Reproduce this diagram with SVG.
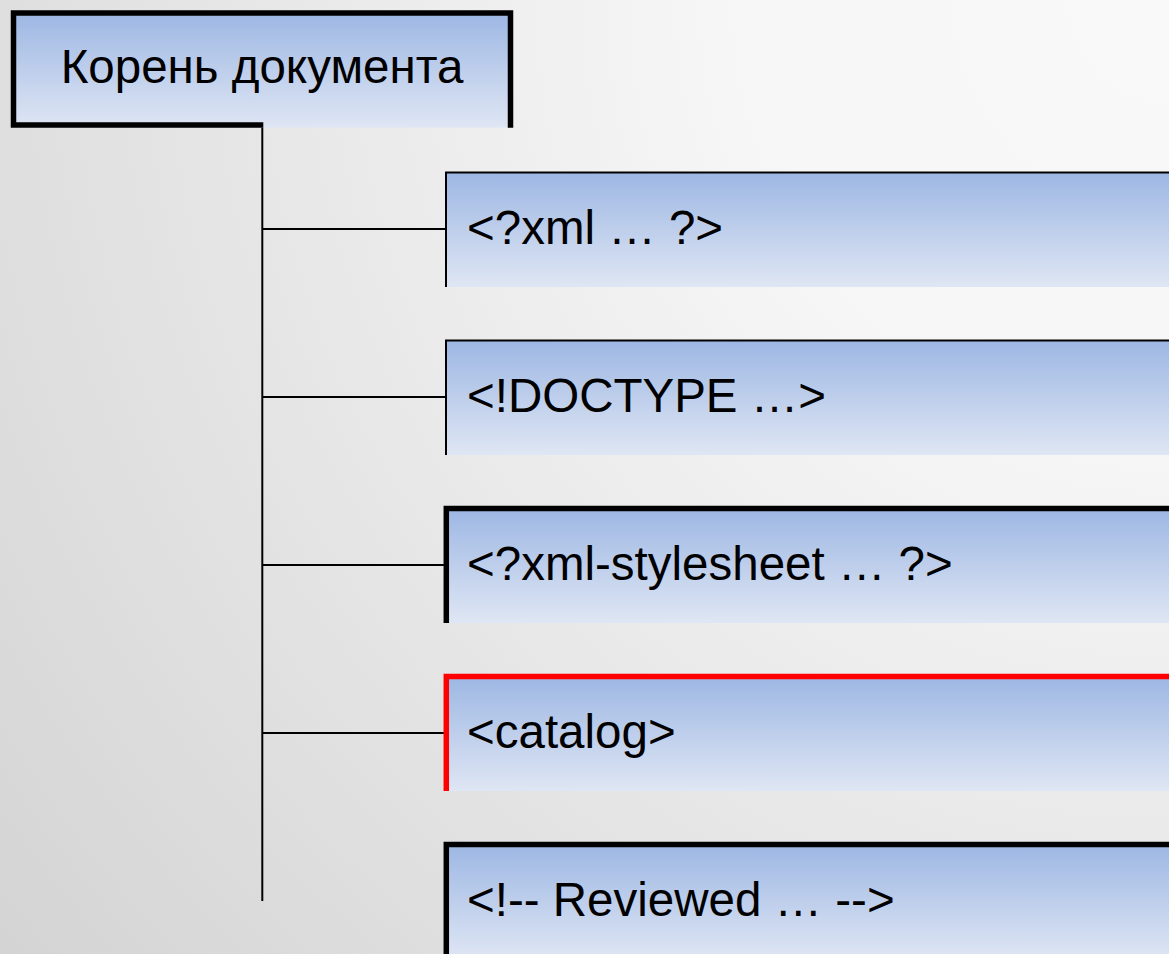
<svg xmlns="http://www.w3.org/2000/svg" width="1169" height="954" viewBox="0 0 1169 954">
  <defs>
    <radialGradient id="bg" gradientUnits="userSpaceOnUse" cx="1169" cy="0" r="1500">
      <stop offset="0" stop-color="#f9f9f9"/>
      <stop offset="0.3" stop-color="#f6f6f6"/>
      <stop offset="1" stop-color="#d4d4d4"/>
    </radialGradient>
    <linearGradient id="boxfill" x1="0" y1="0" x2="0" y2="1">
      <stop offset="0" stop-color="#9db7e3"/>
      <stop offset="1" stop-color="#dfe6f4"/>
    </linearGradient>
    <style>
      .fill { fill: url(#boxfill); }
      .thin { fill: none; stroke: #000; stroke-width: 2; }
      .thick { fill: none; stroke: #000; stroke-width: 5.5; }
      .red { fill: none; stroke: #ff0000; stroke-width: 5.5; }
      .conn { fill: none; stroke: #000; stroke-width: 2; }
      .lbl { font-family: "Liberation Sans", Arial, sans-serif; font-size: 47.5px; fill: #000; }
    </style>
  </defs>
  <rect x="0" y="0" width="1169" height="954" fill="url(#bg)"/>

  <g id="connectors">
    <line class="conn" x1="262.3" y1="127" x2="262.3" y2="901"/>
    <line class="conn" x1="262.3" y1="229" x2="446" y2="229"/>
    <line class="conn" x1="262.3" y1="397" x2="446" y2="397"/>
    <line class="conn" x1="262.3" y1="565" x2="446" y2="565"/>
    <line class="conn" x1="262.3" y1="733" x2="446" y2="733"/>
  </g>

  <g id="root">
    <rect class="fill" x="13.5" y="13" width="497" height="114.7"/>
    <path class="thick" d="M263.3,125 L13.5,125 L13.5,13 L510.5,13 L510.5,127.7"/>
    <text class="lbl" x="262" y="83" text-anchor="middle">Корень документа</text>
  </g>

  <g id="node-xml">
    <rect class="fill" x="446" y="172.5" width="723" height="114.5"/>
    <path class="thin" d="M446,287 L446,172.5 L1169,172.5"/>
    <text class="lbl" x="467" y="244">&lt;?xml … ?&gt;</text>
  </g>

  <g id="node-doctype">
    <rect class="fill" x="446" y="340.5" width="723" height="114.5"/>
    <path class="thin" d="M446,455 L446,340.5 L1169,340.5"/>
    <text class="lbl" x="467" y="412">&lt;!DOCTYPE …&gt;</text>
  </g>

  <g id="node-stylesheet">
    <rect class="fill" x="446" y="508.5" width="723" height="114.5"/>
    <path class="thick" d="M446.3,623 L446.3,508.5 L1169,508.5"/>
    <text class="lbl" x="467" y="580">&lt;?xml-stylesheet … ?&gt;</text>
  </g>

  <g id="node-catalog">
    <rect class="fill" x="446" y="676.5" width="723" height="114.5"/>
    <path class="red" d="M446.3,791 L446.3,676.5 L1169,676.5"/>
    <text class="lbl" x="467" y="748">&lt;catalog&gt;</text>
  </g>

  <g id="node-comment">
    <rect class="fill" x="446" y="844.5" width="723" height="114.5"/>
    <path class="thick" d="M446.3,959 L446.3,844.5 L1169,844.5"/>
    <text class="lbl" x="467" y="916">&lt;!-- Reviewed … --&gt;</text>
  </g>
</svg>
